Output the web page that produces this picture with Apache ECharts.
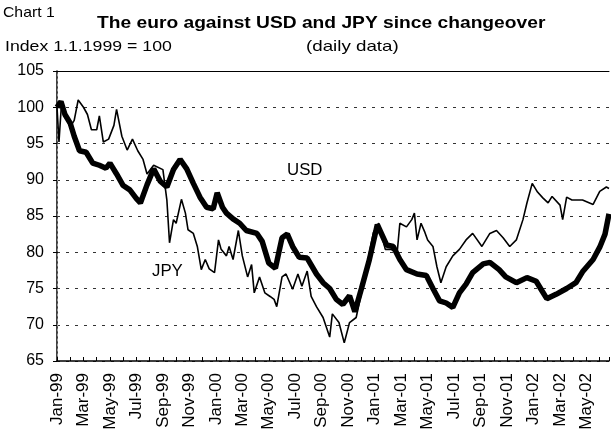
<!DOCTYPE html>
<html>
<head>
<meta charset="utf-8">
<script src="https://cdn.jsdelivr.net/npm/echarts@6/dist/echarts.min.js"></script>
<style>
  html, body { margin: 0; padding: 0; background: #fff; }
  #chart { width: 611px; height: 434px; }
</style>
</head>
<body>
<div id="chart"></div>
<script>
// month index from Jan-99 (0 = start of Jan 1999), index value
var usdData = [
    [0, 100], [0.3, 100.8], [0.6, 99], [1.0, 97.8], [1.3, 96], [1.7, 94], [2.2, 93.8],
    [2.7, 92.3], [3.2, 92], [3.7, 91.6], [4.0, 92.3], [4.5, 90.8], [5.0, 89.2], [5.5, 88.6],
    [6.0, 87.4], [6.3, 86.8], [6.8, 89.3], [7.3, 91.5], [7.8, 89.8], [8.3, 89], [8.8, 91.4],
    [9.3, 92.8], [9.8, 91.5], [10.3, 89.5], [10.8, 87.6], [11.3, 86.2], [11.8, 86], [12.1, 88.2],
    [12.5, 86.2], [12.8, 85.4], [13.3, 84.6], [13.8, 84], [14.3, 83], [15.1, 82.6], [15.5, 81.5],
    [16.0, 78.5], [16.5, 77.8], [17.0, 82], [17.4, 82.5], [17.8, 80.8], [18.3, 79.3], [18.9, 79.2],
    [19.6, 77], [20.1, 75.8], [20.6, 75], [21.1, 73.5], [21.6, 72.8], [22.1, 74], [22.5, 71.8],
    [23.0, 75], [23.6, 79], [24.2, 83.8], [24.9, 81], [25.4, 80.8], [25.9, 79], [26.4, 77.6],
    [27.2, 77], [27.9, 76.8], [28.4, 75], [28.9, 73.3], [29.4, 73], [29.9, 72.4], [30.4, 74.4],
    [30.9, 75.6], [31.4, 77.2], [32.2, 78.4], [32.7, 78.6], [33.4, 77.6], [33.9, 76.6], [34.7, 75.8],
    [35.5, 76.5], [36.2, 76], [36.6, 74.8], [37.0, 73.6], [37.7, 74.2], [38.5, 75], [39.2, 75.8],
    [39.7, 77.3], [40.5, 79], [41.0, 80.7], [41.4, 82.5], [41.7, 85.3]
];
var jpyData = [
    [0, 100], [0.15, 95.2], [0.35, 100.8], [0.7, 98.5], [1.0, 97.3], [1.3, 98.2], [1.6, 101],
    [2.0, 100], [2.3, 99], [2.6, 96.9], [3.0, 96.9], [3.2, 98.8], [3.5, 95.2], [3.9, 95.6],
    [4.3, 97.5], [4.5, 99.7], [4.9, 96], [5.3, 94.1], [5.7, 95.6], [6.1, 94], [6.5, 92.8],
    [6.8, 90.8], [7.3, 92], [8.0, 91.4], [8.3, 87.2], [8.5, 81.3], [8.8, 84.5], [9.0, 84],
    [9.4, 87.3], [9.7, 85.4], [9.9, 83.1], [10.3, 82.6], [10.6, 80.8], [10.9, 77.6], [11.2, 79],
    [11.5, 77.7], [11.9, 77.2], [12.2, 81.7], [12.4, 80.4], [12.8, 79.5], [13.0, 80.8], [13.3, 79],
    [13.7, 83], [14.0, 79.5], [14.4, 76.6], [14.7, 78.3], [14.9, 74.4], [15.3, 76.6], [15.7, 74.4],
    [16.1, 73.9], [16.4, 73.5], [16.6, 72.5], [17.0, 76.6], [17.3, 77], [17.8, 74.9], [18.2, 77],
    [18.5, 75.3], [18.9, 77.4], [19.2, 73.9], [19.6, 72.5], [20.1, 71], [20.6, 68.3], [20.8, 71.5],
    [21.3, 70.3], [21.7, 67.5], [22.1, 70.3], [22.6, 71], [23.0, 74.4], [23.5, 79], [23.9, 82.7],
    [24.3, 84], [24.8, 80.4], [25.2, 80.4], [25.7, 80], [25.9, 84], [26.4, 83.5], [26.8, 84.5],
    [27.0, 85.4], [27.2, 81.7], [27.5, 84], [27.8, 82.7], [28.0, 81.7], [28.4, 80.8], [28.7, 78],
    [29.0, 75.8], [29.4, 78], [29.9, 79.5], [30.4, 80.4], [30.9, 81.7], [31.4, 82.6], [32.1, 80.8],
    [32.7, 82.6], [33.2, 83], [33.7, 82], [34.2, 80.8], [34.7, 81.7], [35.2, 84.5], [35.5, 86.8],
    [35.9, 89.5], [36.3, 88.3], [36.7, 87.5], [37.1, 86.8], [37.4, 87.7], [38.0, 86.5], [38.2, 84.5],
    [38.5, 87.6], [38.9, 87.2], [39.7, 87.2], [40.5, 86.6], [41.0, 88.4], [41.5, 89], [41.7, 88.8]
];
// one label every second month
var tickLabels = ['Jan-99', 'Mar-99', 'May-99', 'Jul-99', 'Sep-99', 'Nov-99', 'Jan-00', 'Mar-00',
    'May-00', 'Jul-00', 'Sep-00', 'Nov-00', 'Jan-01', 'Mar-01', 'May-01', 'Jul-01', 'Sep-01',
    'Nov-01', 'Jan-02', 'Mar-02', 'May-02'];
var lastMonth = 41.7;

var font = '"Liberation Sans", Arial, sans-serif';
var myChart = echarts.init(document.getElementById('chart'));
option = {
    animation: false,
    backgroundColor: '#fff',
    textStyle: { fontFamily: font, color: '#000' },
    grid: { left: 57, right: 2, top: 71, bottom: 73 },
    graphic: [
        { type: 'text', x: 3, y: 5, scaleX: 1.05, style: { text: 'Chart 1', font: '15px ' + font, fill: '#000' } },
        { type: 'text', x: 97, y: 15, scaleX: 1.13, style: { text: 'The euro against USD and JPY since changeover', font: 'bold 17px ' + font, fill: '#000' } },
        { type: 'text', x: 5, y: 39, scaleX: 1.18, style: { text: 'Index 1.1.1999 = 100', font: '15px ' + font, fill: '#000' } },
        { type: 'text', x: 306, y: 39, scaleX: 1.25, style: { text: '(daily data)', font: '15px ' + font, fill: '#000' } },
        { type: 'text', x: 287, y: 163, scaleX: 1.05, style: { text: 'USD', font: '16px ' + font, fill: '#000' } },
        { type: 'text', x: 152, y: 264, scaleX: 1.05, style: { text: 'JPY', font: '16px ' + font, fill: '#000' } }
    ],
    xAxis: [{
        type: 'value',
        min: 0,
        max: lastMonth,
        interval: 1,
        axisLine: { lineStyle: { color: '#000', width: 1.5 } },
        axisTick: { inside: true, length: 4, lineStyle: { color: '#000' } },
        splitLine: { show: false },
        axisLabel: {
            rotate: 90,
            margin: 12,
            fontSize: 17,
            color: '#000',
            formatter: function (v) {
                if (Math.abs(v - Math.round(v)) > 1e-6 || Math.round(v) % 2 !== 0) return '';
                return tickLabels[Math.round(v) / 2] || '';
            }
        }
    }, {
        type: 'value',
        position: 'top',
        min: 0,
        max: lastMonth,
        axisLine: { show: true, lineStyle: { color: '#000', width: 1 } },
        axisTick: { show: false },
        axisLabel: { show: false },
        splitLine: { show: false }
    }],
    yAxis: [{
        type: 'value',
        min: 65,
        max: 105,
        interval: 5,
        axisLine: { show: true, lineStyle: { color: '#000', width: 1.5 } },
        axisTick: { show: true, length: 4, lineStyle: { color: '#000' } },
        axisLabel: { fontSize: 16, color: '#000', margin: 13 },
        splitLine: { show: true, lineStyle: { color: '#333', type: [3, 6], width: 1 } }
    }, {
        type: 'value',
        position: 'right',
        min: 65,
        max: 105,
        axisLine: { show: true, lineStyle: { color: '#999', type: [2, 3], width: 1 } },
        axisTick: { show: false },
        axisLabel: { show: false },
        splitLine: { show: false }
    }],
    series: [{
        name: 'USD',
        type: 'line',
        data: usdData,
        showSymbol: false,
        lineStyle: { color: '#000', width: 5.5 },
        z: 3
    }, {
        name: 'JPY',
        type: 'line',
        data: jpyData,
        showSymbol: false,
        lineStyle: { color: '#000', width: 1.6 },
        z: 4
    }]
};
option && myChart.setOption(option);
</script>
</body>
</html>
